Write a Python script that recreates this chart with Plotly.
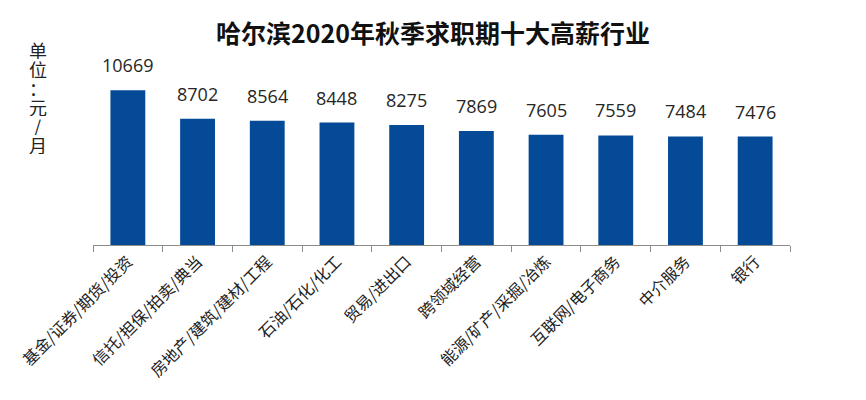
import plotly.graph_objects as go

categories = ["基金/证券/期货/投资", "信托/担保/拍卖/典当", "房地产/建筑/建材/工程", "石油/石化/化工",
              "贸易/进出口", "跨领域经营", "能源/矿产/采掘/冶炼", "互联网/电子商务", "中介服务", "银行"]
values = [10669, 8702, 8564, 8448, 8275, 7869, 7605, 7559, 7484, 7476]
title_text = "哈尔滨2020年秋季求职期十大高薪行业"
unit_text = "单位：元/月"

fig = go.Figure(go.Bar(
    x=categories, y=values,
    marker=dict(color="#044A97", line=dict(width=0)),
    cliponaxis=False,
))

for c, v in zip(categories, values):
    fig.add_annotation(x=c, y=v, text=str(v), showarrow=False, yanchor="bottom", yshift=11,
                       font=dict(family="Open Sans, Noto Sans", size=18, color="#262626"))

fig.update_layout(
    width=866, height=400,
    margin=dict(l=93, r=76, t=71, b=155),
    paper_bgcolor="white", plot_bgcolor="white",
    bargap=0.5,
    showlegend=False,
    title=dict(text="<b>" + title_text + "</b>", x=0.5, xanchor="center", y=0.915, yanchor="middle",
               font=dict(family="Noto Sans CJK SC", size=25, color="#111111")),
    xaxis=dict(type="category", tickangle=-45, showline=True, linecolor="#8c8c8c", linewidth=1,
               ticks="outside", tickson="boundaries", ticklen=6, tickcolor="#8c8c8c",
               tickfont=dict(family="Noto Sans CJK SC", size=16, color="#222222"),
               showgrid=False),
    yaxis=dict(range=[0, 12000], visible=False, showgrid=False),
)

# vertical unit label, one character per line
for i, ch in enumerate(unit_text):
    fig.add_annotation(text=ch, xref="paper", yref="paper", x=-0.079, y=1.0, xanchor="center",
                       yanchor="middle", yshift=71 - 49 - i * 19, showarrow=False, height=19,
                       borderpad=0,
                       font=dict(family="Noto Sans CJK SC", size=18, color="#222222"))

fig.write_html("out.html")
